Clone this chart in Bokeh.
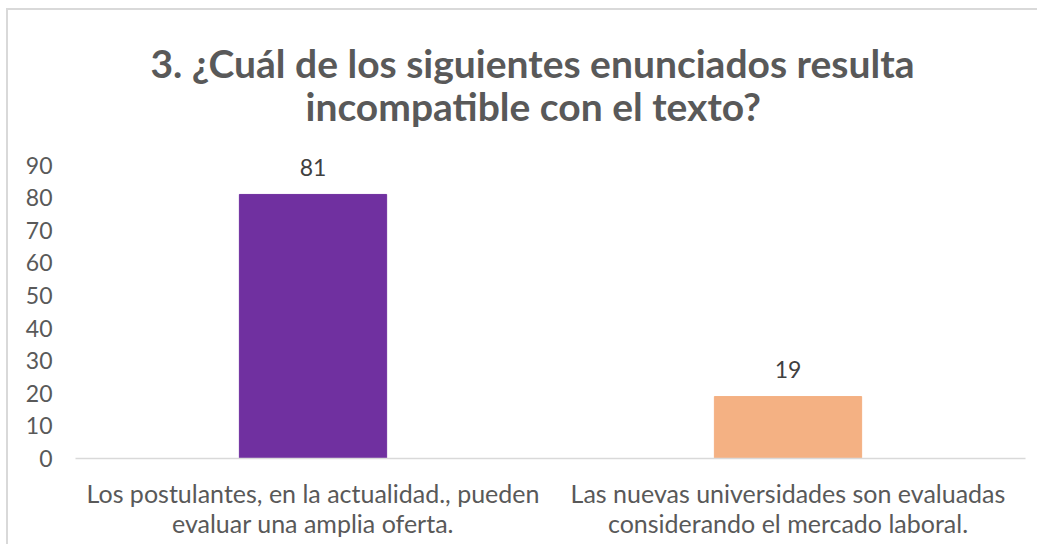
from bokeh.plotting import figure
from bokeh.models import ColumnDataSource, Range1d, FixedTicker, LabelSet, Title
from bokeh.core.properties import value
from bokeh.embed import file_html
from bokeh.resources import INLINE

categories = ["Los postulantes, en la actualidad., pueden\nevaluar una amplia oferta.",
              "Las nuevas universidades son evaluadas\nconsiderando el mercado laboral."]
values = [81, 19]
colors = ["#7030A0", "#F4B183"]
y_ticks = [0, 10, 20, 30, 40, 50, 60, 70, 80, 90]
title_lines = ["3. ¿Cuál de los siguientes enunciados resulta",
               "incompatible con el texto?"]

src = ColumnDataSource(dict(cat=categories, val=values, color=colors,
                            lab=[str(v) for v in values]))

p = figure(x_range=categories, y_range=Range1d(0, 100), width=1031, height=536,
           output_backend="svg", toolbar_location=None,
           min_border_left=67, min_border_right=14, min_border_top=122, min_border_bottom=88)
p.styles = {"margin-left": "6px", "margin-top": "8px",
            "border-left": "2px solid #d9d9d9", "border-top": "2px solid #d9d9d9"}

p.title = None
title_offsets = [75, 230]
for i, (line, off) in enumerate(reversed(list(zip(title_lines, title_offsets)))):
    t = Title(text=line, align="left", text_font="Lato", text_font_size="39px",
              text_font_style="bold", text_color="#595959", offset=off,
              standoff=(8 if i == 0 else -19))
    p.add_layout(t, "above")

p.vbar(x="cat", top="val", width=0.31, color="color", source=src)

labels = LabelSet(x="cat", y="val", text="lab", source=src, text_align="center",
                  text_baseline="middle", y_offset=27, text_font=value("Lato"),
                  text_font_size=value("23px"), text_color="#404040")
p.add_layout(labels)

p.xgrid.visible = False
p.ygrid.visible = False
p.outline_line_color = None

p.yaxis.ticker = FixedTicker(ticks=y_ticks)
p.yaxis.axis_line_color = None
p.yaxis.major_tick_line_color = None
p.yaxis.minor_tick_line_color = None
p.yaxis.major_label_text_font = "Lato"
p.yaxis.major_label_text_font_size = "23px"
p.yaxis.major_label_text_color = "#595959"
p.yaxis.major_label_standoff = 17

p.xaxis.axis_line_color = "#d9d9d9"
p.xaxis.axis_line_width = 1.5
p.xaxis.major_tick_line_color = None
p.xaxis.minor_tick_line_color = None
p.xaxis.major_label_text_font = "Lato"
p.xaxis.major_label_text_font_size = "25px"
p.xaxis.major_label_text_color = "#595959"
p.xaxis.major_label_standoff = 13
p.xaxis.major_label_text_line_height = 1.0
p.x_range.range_padding = 0

open("out.html", "w").write(file_html(p, INLINE))
